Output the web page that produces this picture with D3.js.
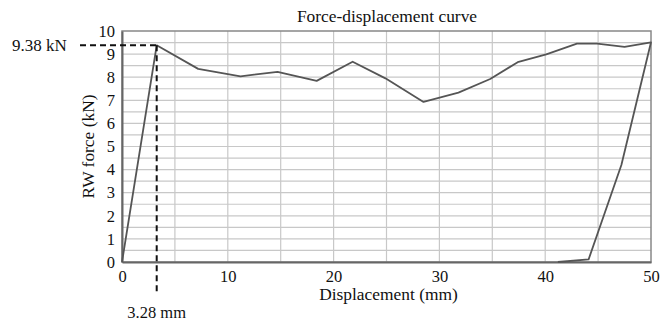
<!DOCTYPE html>
<html>
<head>
<meta charset="utf-8">
<script src="https://cdn.jsdelivr.net/npm/d3@7"></script>
<style>
  body { margin: 0; background: #fff; }
  text { font-family: "Liberation Serif", "DejaVu Serif", serif; fill: #111; }
</style>
</head>
<body>
<div id="chart"></div>
<script>
// displacement (mm) and RW force (kN)
var disp  = [0, 3.28, 7.2, 11.2, 14.7, 18.4, 21.8, 24.9, 28.5, 31.8, 34.8, 37.4, 40.1, 43.0, 44.9, 47.5, 50, 47.2, 44.1, 41.2];
var force = [0, 9.38, 8.36, 8.04, 8.23, 7.84, 8.67, 7.95, 6.93, 7.33, 7.92, 8.65, 8.99, 9.45, 9.45, 9.31, 9.51, 4.2, 0.11, 0];
var xTicks = [0, 10, 20, 30, 40, 50];
var yTicks = [0, 1, 2, 3, 4, 5, 6, 7, 8, 9, 10];
var peak = {x: 3.28, y: 9.38};

var W = 661, H = 326;
var margin = {top: 31, right: 10, bottom: 64, left: 122};
var SERIF = "'Liberation Serif', 'DejaVu Serif', serif";

var svg = d3.select("#chart").append("svg")
	.attr("width", W)
	.attr("height", H);

var x = d3.scaleLinear().domain([0, 50]).range([margin.left, W - margin.right]);
var y = d3.scaleLinear().domain([0, 10]).range([H - margin.bottom, margin.top]);

// grid
var grid = svg.append("g");
grid.selectAll("line.h")
	.data(d3.range(0.5, 10, 0.5))
	.enter().append("line")
	.attr("x1", x(0)).attr("x2", x(50))
	.attr("y1", d => y(d)).attr("y2", d => y(d))
	.attr("stroke", "#c8c8c8").attr("stroke-width", 1.2);
grid.selectAll("line.v")
	.data(d3.range(5, 50, 5))
	.enter().append("line")
	.attr("x1", d => x(d)).attr("x2", d => x(d))
	.attr("y1", y(0)).attr("y2", y(10))
	.attr("stroke", "#c8c8c8").attr("stroke-width", 1.2);

// frame
svg.append("rect")
	.attr("x", x(0)).attr("y", y(10))
	.attr("width", x(50) - x(0)).attr("height", y(0) - y(10))
	.attr("fill", "none").attr("stroke", "#888").attr("stroke-width", 1.5);

// axes
var xAxis = svg.append("g")
	.attr("transform", `translate(0,${y(0)})`)
	.call(d3.axisBottom(x).tickValues(xTicks).tickSize(0).tickPadding(8));
var yAxis = svg.append("g")
	.attr("transform", `translate(${x(0)},0)`)
	.call(d3.axisLeft(y).tickValues(yTicks).tickSize(0).tickPadding(7));
[xAxis, yAxis].forEach(a => {
	a.attr("font-family", SERIF).attr("font-size", 16.5);
	a.select(".domain").attr("stroke", "#666").attr("stroke-width", 2);
	a.selectAll(".tick text").attr("fill", "#111");
});

// curve
var pts = disp.map((d, i) => [d, force[i]]);
svg.append("path")
	.datum(pts)
	.attr("d", d3.line().x(d => x(d[0])).y(d => y(d[1])))
	.attr("fill", "none")
	.attr("stroke", "#555")
	.attr("stroke-width", 1.8)
	.attr("stroke-linejoin", "round");

// peak markers
svg.append("line")
	.attr("x1", 80).attr("x2", x(peak.x))
	.attr("y1", y(peak.y)).attr("y2", y(peak.y))
	.attr("stroke", "#111").attr("stroke-width", 2).attr("stroke-dasharray", "6,4");
svg.append("line")
	.attr("x1", x(peak.x)).attr("x2", x(peak.x))
	.attr("y1", y(peak.y)).attr("y2", 293)
	.attr("stroke", "#111").attr("stroke-width", 2).attr("stroke-dasharray", "6,4");
svg.append("text")
	.attr("x", 12).attr("y", y(peak.y) + 6)
	.style("font-size", "17px")
	.text(peak.y.toFixed(2) + " kN");
svg.append("text")
	.attr("x", x(peak.x)).attr("y", 318)
	.attr("text-anchor", "middle")
	.style("font-size", "16.5px")
	.text(peak.x.toFixed(2) + " mm");

// titles
svg.append("text")
	.attr("x", 387).attr("y", 22)
	.attr("text-anchor", "middle")
	.style("font-size", "17.4px")
	.text("Force-displacement curve");
svg.append("text")
	.attr("x", (x(0) + x(50)) / 2 + 2).attr("y", 300)
	.attr("text-anchor", "middle")
	.style("font-size", "17.4px")
	.text("Displacement (mm)");
svg.append("text")
	.attr("transform", `translate(94,${(y(0) + y(10)) / 2}) rotate(-90)`)
	.attr("text-anchor", "middle")
	.style("font-size", "17.4px")
	.text("RW force (kN)");
</script>
</body>
</html>
